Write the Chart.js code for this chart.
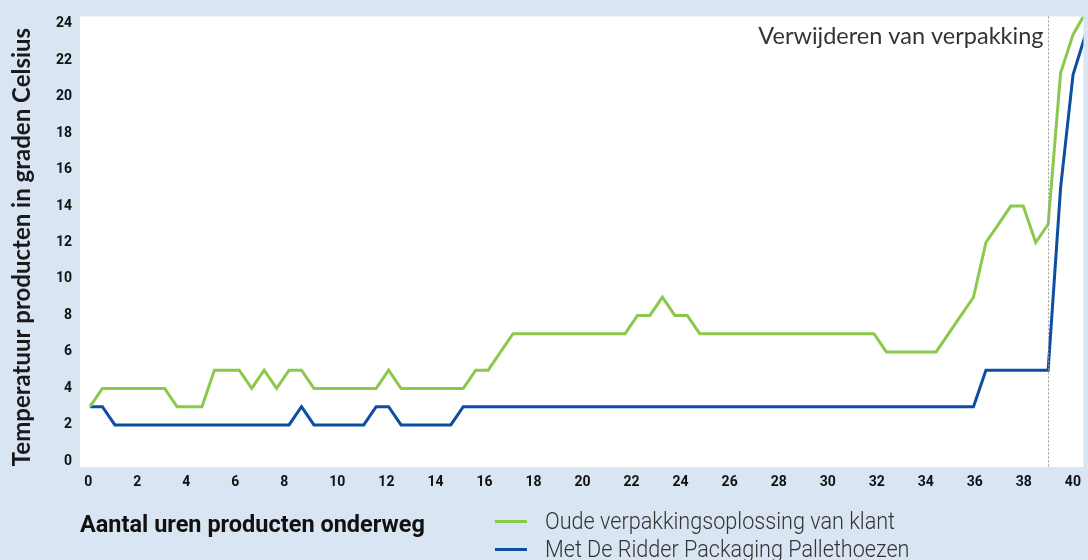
<!DOCTYPE html>
<html>
<head>
<meta charset="utf-8">
<script src="https://cdn.jsdelivr.net/npm/chart.js@4.4.1/dist/chart.umd.min.js"></script>
<style>
  body { margin: 0; background: #d9e5f2; }
  #wrap { position: relative; width: 1088px; height: 560px; overflow: hidden; }
  #chart { position: absolute; left: 0; top: 0; }
  #xtitle { position: absolute; left: 80px; top: 510px; font: 700 23.5px Roboto; color: #111;
            white-space: nowrap; }
  #legend { position: absolute; left: 495px; top: 507px; font: 300 23px Roboto; color: #333; }
  #legend .row { display: flex; align-items: center; height: 28px; white-space: nowrap; }
  #legend .sw { width: 32px; height: 3px; margin-right: 18px; }
  #legend .txt { display: inline-block; transform-origin: left center; transform: scaleX(0.94); }
</style>
</head>
<body>
<div id="wrap">
  <canvas id="chart" width="1088" height="560"></canvas>
  <div id="xtitle">Aantal uren producten onderweg</div>
  <div id="legend"></div>
</div>
<script>
const hours = [0, 0.5, 1, 1.5, 2, 2.5, 3, 3.5, 4, 4.5, 5, 5.5, 6, 6.5, 7, 7.5, 8, 8.5, 9, 9.5,
  10, 10.5, 11, 11.5, 12, 12.5, 13, 13.5, 14, 14.5, 15, 15.5, 16, 16.5, 17, 17.5, 18, 18.5, 19, 19.5,
  20, 20.5, 21, 21.5, 22, 22.5, 23, 23.5, 24, 24.5, 25, 25.5, 26, 26.5, 27, 27.5, 28, 28.5, 29, 29.5,
  30, 30.5, 31, 31.5, 32, 32.5, 33, 33.5, 34, 34.5, 35, 35.5, 36, 36.5, 37, 37.5, 38, 38.5, 39, 39.5, 40];

// oude verpakking (groen)
const oudeVerpakking = [3, 4, 4, 4, 4, 4, 4, 3, 3, 3, 5, 5, 5, 4, 5, 4, 5, 5, 4, 4,
  4, 4, 4, 4, 5, 4, 4, 4, 4, 4, 4, 5, 5, 6, 7, 7, 7, 7, 7, 7,
  7, 7, 7, 7, 8, 8, 9, 8, 8, 7, 7, 7, 7, 7, 7, 7, 7, 7, 7, 7,
  7, 7, 7, 7, 6, 6, 6, 6, 6, 7, 8, 9, 12, 13, 14, 14, 12, 13, 21.3, 23.4, 24.6];

// met pallethoezen (blauw)
const pallethoezen = [3, 3, 2, 2, 2, 2, 2, 2, 2, 2, 2, 2, 2, 2, 2, 2, 2, 3, 2, 2,
  2, 2, 2, 3, 3, 2, 2, 2, 2, 2, 3, 3, 3, 3, 3, 3, 3, 3, 3, 3,
  3, 3, 3, 3, 3, 3, 3, 3, 3, 3, 3, 3, 3, 3, 3, 3, 3, 3, 3, 3,
  3, 3, 3, 3, 3, 3, 3, 3, 3, 3, 3, 3, 5, 5, 5, 5, 5, 5, 15, 21.2, 23.4];

const seriesNames = ["Oude verpakkingsoplossing van klant", "Met De Ridder Packaging Pallethoezen"];
const seriesColors = ["#8cc84b", "#0b4ea2"];
const removalHour = 38.5;
const removalText = "Verwijderen van verpakking";
const yTitle = "Temperatuur producten in graden Celsius";

const legend = document.getElementById("legend");
seriesNames.forEach((name, i) => {
  const row = document.createElement("div");
  row.className = "row";
  row.innerHTML = `<span class="sw" style="background:${seriesColors[i]}"></span><span class="txt">${name}</span>`;
  legend.appendChild(row);
});

const plotBg = {
  id: "plotBg",
  beforeDraw(chart) {
    const {ctx, chartArea: a} = chart;
    ctx.save();
    ctx.fillStyle = "#ffffff";
    ctx.fillRect(a.left, a.top, a.right - a.left, a.bottom - a.top);
    ctx.restore();
  }
};

// y-as titel iets lager dan het midden, zoals in het origineel
const yTitlePlugin = {
  id: "yTitlePlugin",
  afterDraw(chart) {
    const ctx = chart.ctx;
    ctx.save();
    ctx.translate(22, 247);
    ctx.rotate(-Math.PI / 2);
    ctx.font = "bold 24px Lato";
    ctx.fillStyle = "#1a1a1a";
    ctx.textAlign = "center";
    ctx.textBaseline = "middle";
    ctx.fillText(yTitle, 0, 0);
    ctx.restore();
  }
};

const removalMarker = {
  id: "removalMarker",
  afterDatasetsDraw(chart) {
    const {ctx, chartArea: a} = chart;
    const x = Math.round(chart.scales.x.getPixelForValue(removalHour)) + 0.5;
    ctx.save();
    ctx.strokeStyle = "#9a9a9a";
    ctx.lineWidth = 1;
    ctx.setLineDash([2, 2]);
    ctx.beginPath();
    ctx.moveTo(x, a.top);
    ctx.lineTo(x, a.bottom);
    ctx.stroke();
    ctx.setLineDash([]);
    ctx.font = "23.5px Lato";
    ctx.fillStyle = "#333333";
    ctx.textAlign = "right";
    ctx.textBaseline = "alphabetic";
    ctx.fillText(removalText, x - 5, 44);
    ctx.restore();
  }
};

const tickFont = { family: "Roboto", size: 14, weight: "bold" };

new Chart(document.getElementById("chart"), {
  type: "line",
  data: {
    labels: hours,
    datasets: [
      { label: seriesNames[0], data: oudeVerpakking, borderColor: seriesColors[0], backgroundColor: seriesColors[0],
        borderWidth: 3, pointRadius: 0, tension: 0, fill: false },
      { label: seriesNames[1], data: pallethoezen, borderColor: seriesColors[1], backgroundColor: seriesColors[1],
        borderWidth: 3, pointRadius: 0, tension: 0, fill: false }
    ]
  },
  options: {
    responsive: false,
    animation: false,
    devicePixelRatio: 1,
    layout: { padding: { top: 14, left: 0, right: 0, bottom: 0 } },
    plugins: { legend: { display: false }, tooltip: { enabled: false } },
    scales: {
      x: { type: "linear", min: -0.4, max: 39.92, display: false },
      x2: {
        type: "linear", position: "bottom", min: -0.17, max: 40.76,
        grid: { display: false, drawTicks: false }, border: { display: false },
        ticks: { stepSize: 2, includeBounds: false, autoSkip: false, maxTicksLimit: 50, maxRotation: 0,
                 align: "start", padding: 7, color: "#111", font: tickFont },
        afterFit(scale) { scale.height = 93; }
      },
      y: {
        min: -0.31, max: 24.4,
        grid: { display: false, drawTicks: false }, border: { display: false },
        ticks: { stepSize: 2, includeBounds: false, autoSkip: false, maxTicksLimit: 50,
                 padding: 8, color: "#111", font: tickFont },
        afterFit(scale) { scale.width = 80; }
      }
    }
  },
  plugins: [plotBg, yTitlePlugin, removalMarker]
});
</script>
</body>
</html>
